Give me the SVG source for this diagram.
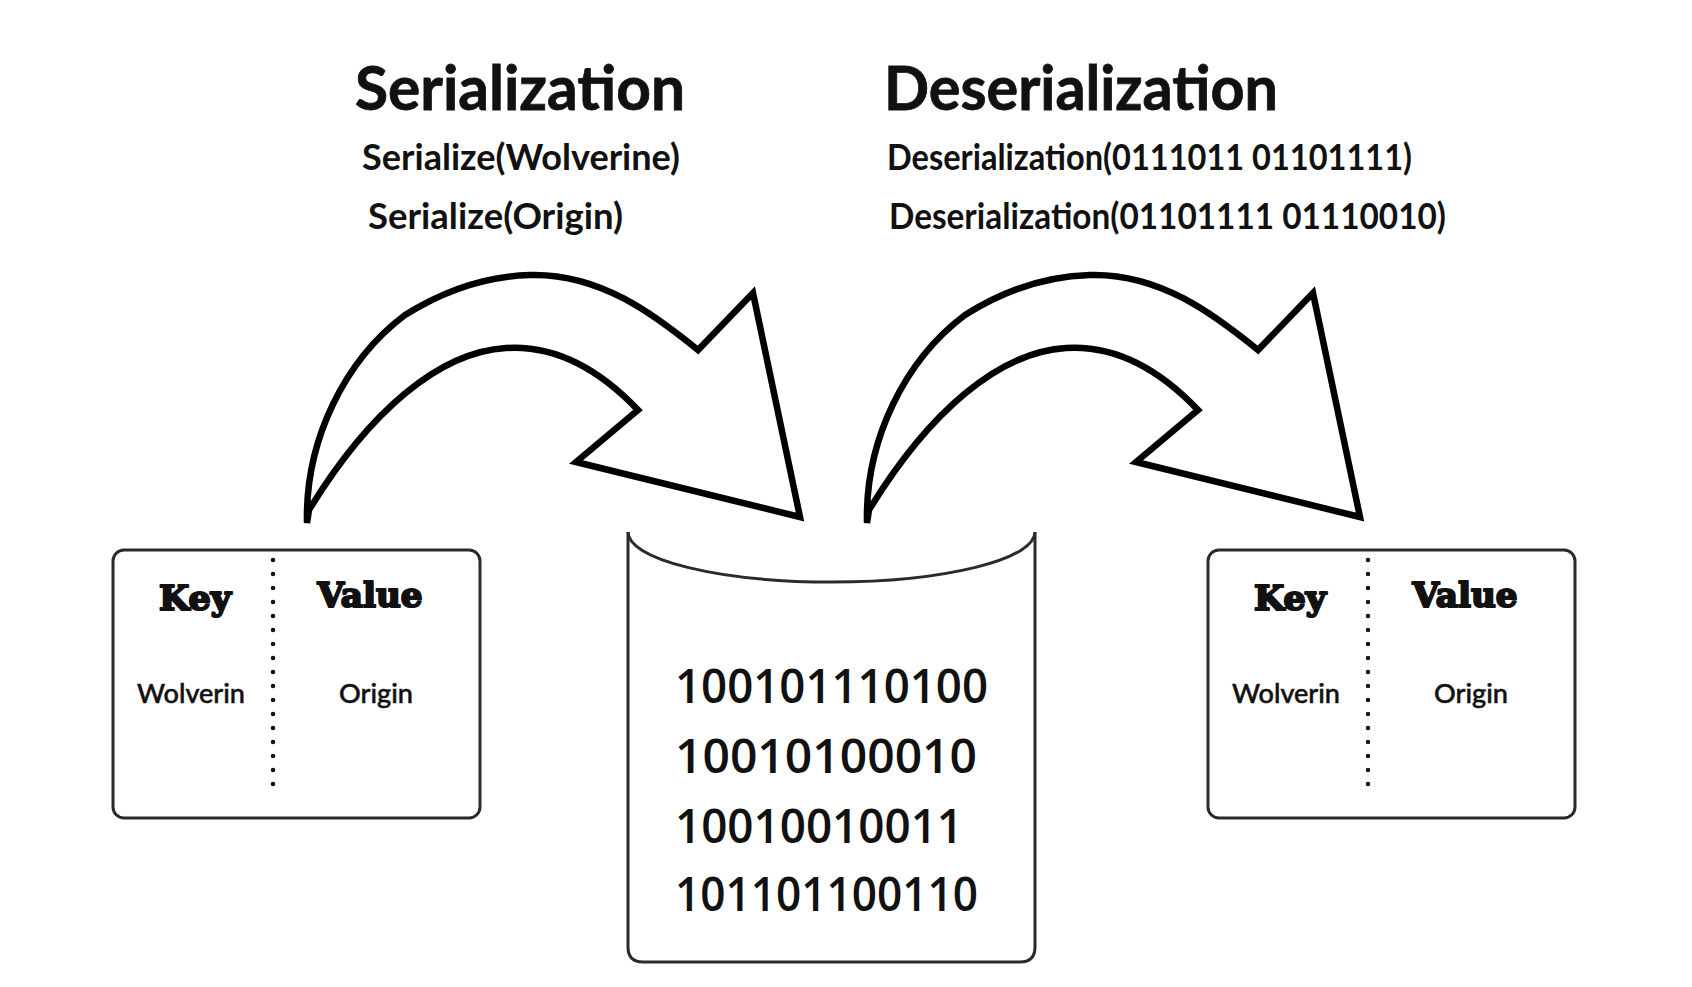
<svg xmlns="http://www.w3.org/2000/svg" width="1692" height="987" viewBox="0 0 1692 987">
<defs>
<style>
.title{font-family:Lato,"Open Sans",sans-serif;font-weight:700;font-size:62px;fill:#111;stroke:#111;stroke-width:0.8}
.sub{font-family:Lato,"Open Sans",sans-serif;font-weight:700;font-size:36px;fill:#111}
.head{font-family:"DejaVu Serif",serif;font-weight:900;font-size:34px;fill:#111;stroke:#111;stroke-width:2.2;stroke-linejoin:round}
.cell{font-family:Lato,"Open Sans",sans-serif;font-weight:500;font-size:27px;fill:#111;stroke:#111;stroke-width:0.5}
.bin{font-family:"Open Sans",Lato,sans-serif;font-weight:600;font-size:47px;fill:#111}
.box{fill:#fff;stroke:#2a2a2a;stroke-width:3}
.dots{stroke:#111;stroke-width:4.5;stroke-linecap:round;stroke-dasharray:0 14;fill:none}
.arrow{fill:#fff;stroke:#000;stroke-width:6.5;stroke-linejoin:miter;stroke-miterlimit:10}
</style>
<path id="arrowShape" d="M307,523 C305,440 345,360 405,315 C448,288 490,276 530,275 C600,273 655,315 698,350 L753,293 L800,517 L576,462 L638,410 C600,370 555,345 506,348 C440,352 370,410 309,510 Z"/>
</defs>
<rect width="1692" height="987" fill="#fff"/>

<g id="titles">
<text class="title" x="355" y="110" textLength="330" lengthAdjust="spacingAndGlyphs">Serialization</text>
<text class="sub" x="362" y="170" textLength="318" lengthAdjust="spacingAndGlyphs">Serialize(Wolverine)</text>
<text class="sub" x="368" y="229" textLength="255" lengthAdjust="spacingAndGlyphs">Serialize(Origin)</text>
<text class="title" x="884" y="110" textLength="394" lengthAdjust="spacingAndGlyphs">Deserialization</text>
<text class="sub" x="887" y="170" textLength="525" lengthAdjust="spacingAndGlyphs">Deserialization(0111011 01101111)</text>
<text class="sub" x="889" y="229" textLength="557" lengthAdjust="spacingAndGlyphs">Deserialization(01101111 01110010)</text>
</g>

<g id="connectors">
<use href="#arrowShape" class="arrow"/>
<use href="#arrowShape" class="arrow" transform="translate(560,0)"/>
</g>

<g id="source-table">
<rect class="box" x="113" y="550" width="367" height="268" rx="11"/>
<line class="dots" x1="273" y1="560" x2="273" y2="798"/>
<text class="head" x="195" y="610" text-anchor="middle" textLength="72" lengthAdjust="spacingAndGlyphs">Key</text>
<text class="head" x="370" y="607" text-anchor="middle" textLength="105" lengthAdjust="spacingAndGlyphs">Value</text>
<text class="cell" x="191" y="703" text-anchor="middle" textLength="108" lengthAdjust="spacingAndGlyphs">Wolverin</text>
<text class="cell" x="376" y="703" text-anchor="middle" textLength="74" lengthAdjust="spacingAndGlyphs">Origin</text>
</g>

<g id="storage">
<path d="M628,532 L628,947 Q628,962 643,962 L1020,962 Q1035,962 1035,947 L1035,532" fill="none" stroke="#2a2a2a" stroke-width="3"/>
<path d="M628,532 A203.5,50 0 0 0 1035,532" fill="none" stroke="#2a2a2a" stroke-width="3"/>
<text class="bin" x="675" y="703" textLength="313" lengthAdjust="spacingAndGlyphs">100101110100</text>
<text class="bin" x="675" y="773" textLength="302" lengthAdjust="spacingAndGlyphs">10010100010</text>
<text class="bin" x="675" y="843" textLength="288" lengthAdjust="spacingAndGlyphs">10010010011</text>
<text class="bin" x="675" y="911" textLength="303" lengthAdjust="spacingAndGlyphs">101101100110</text>
</g>

<g id="target-table" transform="translate(1095,0)">
<rect class="box" x="113" y="550" width="367" height="268" rx="11"/>
<line class="dots" x1="273" y1="560" x2="273" y2="798"/>
<text class="head" x="195" y="610" text-anchor="middle" textLength="72" lengthAdjust="spacingAndGlyphs">Key</text>
<text class="head" x="370" y="607" text-anchor="middle" textLength="105" lengthAdjust="spacingAndGlyphs">Value</text>
<text class="cell" x="191" y="703" text-anchor="middle" textLength="108" lengthAdjust="spacingAndGlyphs">Wolverin</text>
<text class="cell" x="376" y="703" text-anchor="middle" textLength="74" lengthAdjust="spacingAndGlyphs">Origin</text>
</g>
</svg>
